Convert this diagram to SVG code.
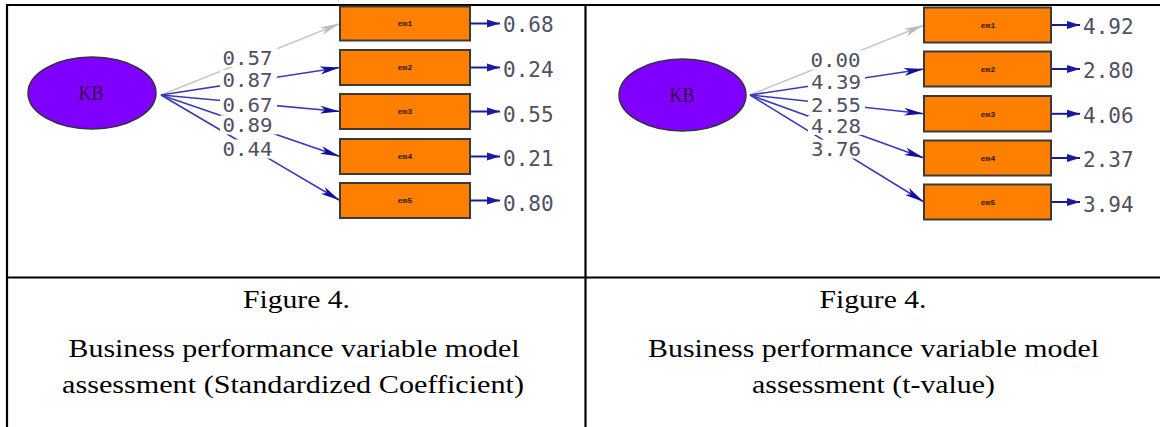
<svg xmlns="http://www.w3.org/2000/svg" width="1160" height="427" viewBox="0 0 1160 427">
<style>
.frame{stroke:#000;stroke-width:2.2;fill:none}
.lat{fill:#8000ff;stroke:#333;stroke-width:1.5}
.latt{font-family:"Liberation Serif",serif;font-size:21px;fill:#3a0a40;text-anchor:middle}
.obs{fill:#ff8000;stroke:#3a3a3a;stroke-width:2}
.obst{font-family:"Liberation Mono",monospace;font-size:8px;font-weight:bold;fill:#2a1800;text-anchor:middle}
.num{font-family:"DejaVu Sans Mono",monospace;font-size:21px;fill:#505062}
.lab{font-family:"DejaVu Sans Mono",monospace;font-size:19px;fill:#505062}
.bg{fill:#fff}
.ld{stroke:#3a3ab8;stroke-width:1.6;fill:none;marker-end:url(#ah)}
.ldg{stroke:#c8c8c8;stroke-width:1.6;fill:none;marker-end:url(#ahg)}
.err{stroke:#1a1aa0;stroke-width:2;fill:none;marker-end:url(#ahe)}
.cap{font-family:"Liberation Serif","Times New Roman",serif;font-size:25px;fill:#000;text-anchor:middle}
</style>
<defs>
<marker id="ah" markerUnits="userSpaceOnUse" markerWidth="22" markerHeight="10" refX="20" refY="5" orient="auto"><path d="M0,1 L20,5 L0,9 L5,5 z" fill="#1010a0"/></marker>
<marker id="ahg" markerUnits="userSpaceOnUse" markerWidth="22" markerHeight="10" refX="20" refY="5" orient="auto"><path d="M0,1 L20,5 L0,9 L5,5 z" fill="#bdbdbd"/></marker>
<marker id="ahe" markerUnits="userSpaceOnUse" markerWidth="14" markerHeight="9" refX="13" refY="4.5" orient="auto"><path d="M0,0.5 L13,4.5 L0,8.5 z" fill="#1a1aa0"/></marker>
</defs>

<g id="frame">
<line class="frame" x1="6" y1="5" x2="1160" y2="5"/>
<line class="frame" x1="7" y1="4" x2="7" y2="427"/>
<line class="frame" x1="585.5" y1="4" x2="585.5" y2="427"/>
<line class="frame" x1="6" y1="277.5" x2="1160" y2="277.5"/>
</g>

<g id="connectors">
<line class="ldg" x1="161" y1="95" x2="340" y2="23.5"/>
<line class="ld" x1="161" y1="95" x2="340" y2="67.5"/>
<line class="ld" x1="161" y1="95" x2="340" y2="111.5"/>
<line class="ld" x1="161" y1="95" x2="340" y2="156.5"/>
<line class="ld" x1="161" y1="95" x2="340" y2="200.5"/>
<line class="err" x1="471" y1="23.5" x2="500" y2="23.5"/>
<line class="err" x1="471" y1="67.5" x2="500" y2="67.5"/>
<line class="err" x1="471" y1="111.5" x2="500" y2="111.5"/>
<line class="err" x1="471" y1="156.5" x2="500" y2="156.5"/>
<line class="err" x1="471" y1="200.5" x2="500" y2="200.5"/>

<line class="ldg" x1="750" y1="95" x2="924" y2="25"/>
<line class="ld" x1="750" y1="95" x2="924" y2="69"/>
<line class="ld" x1="750" y1="95" x2="924" y2="113.8"/>
<line class="ld" x1="750" y1="95" x2="924" y2="158"/>
<line class="ld" x1="750" y1="95" x2="924" y2="202"/>
<line class="err" x1="1052" y1="25" x2="1080" y2="25"/>
<line class="err" x1="1052" y1="69" x2="1080" y2="69"/>
<line class="err" x1="1052" y1="113.8" x2="1080" y2="113.8"/>
<line class="err" x1="1052" y1="158" x2="1080" y2="158"/>
<line class="err" x1="1052" y1="202" x2="1080" y2="202"/>
</g>

<g id="labels-left">
<rect class="bg" x="220" y="48" width="57" height="19"/>
<text class="lab" x="222.5" y="64.5" textLength="50" lengthAdjust="spacingAndGlyphs">0.57</text>
<rect class="bg" x="220" y="70" width="57" height="19"/>
<text class="lab" x="222.5" y="86.5" textLength="50" lengthAdjust="spacingAndGlyphs">0.87</text>
<rect class="bg" x="220" y="95" width="57" height="19"/>
<text class="lab" x="222.5" y="111.5" textLength="50" lengthAdjust="spacingAndGlyphs">0.67</text>
<rect class="bg" x="220" y="115.5" width="57" height="19"/>
<text class="lab" x="222.5" y="132" textLength="50" lengthAdjust="spacingAndGlyphs">0.89</text>
<rect class="bg" x="220" y="139.5" width="57" height="19"/>
<text class="lab" x="222.5" y="156" textLength="50" lengthAdjust="spacingAndGlyphs">0.44</text>
</g>

<g id="labels-right">
<rect class="bg" x="808" y="50.5" width="57" height="19"/>
<text class="lab" x="810.5" y="67" textLength="50" lengthAdjust="spacingAndGlyphs">0.00</text>
<rect class="bg" x="808" y="72" width="57" height="19"/>
<text class="lab" x="811" y="88.5" textLength="50" lengthAdjust="spacingAndGlyphs">4.39</text>
<rect class="bg" x="808" y="95.5" width="57" height="19"/>
<text class="lab" x="811" y="112" textLength="50" lengthAdjust="spacingAndGlyphs">2.55</text>
<rect class="bg" x="808" y="116" width="57" height="19"/>
<text class="lab" x="811" y="132.5" textLength="50" lengthAdjust="spacingAndGlyphs">4.28</text>
<rect class="bg" x="808" y="139.5" width="57" height="19"/>
<text class="lab" x="811" y="156" textLength="50" lengthAdjust="spacingAndGlyphs">3.76</text>
</g>

<g id="KB-left">
<ellipse class="lat" cx="92" cy="93" rx="64" ry="36"/>
<text class="latt" x="91" y="100" textLength="25" lengthAdjust="spacingAndGlyphs">KB</text>
</g>
<g id="em1-left"><rect class="obs" x="340" y="6.5" width="130" height="34"/><text class="obst" x="405" y="26">em1</text></g>
<g id="em2-left"><rect class="obs" x="340" y="50" width="130" height="35"/><text class="obst" x="405" y="70">em2</text></g>
<g id="em3-left"><rect class="obs" x="340" y="94" width="130" height="35"/><text class="obst" x="405" y="114">em3</text></g>
<g id="em4-left"><rect class="obs" x="340" y="139" width="130" height="35"/><text class="obst" x="405" y="159">em4</text></g>
<g id="em5-left"><rect class="obs" x="340" y="183" width="130" height="35"/><text class="obst" x="405" y="203">em5</text></g>

<g id="err-left">
<text class="num" x="503" y="32.2">0.68</text>
<text class="num" x="503" y="77">0.24</text>
<text class="num" x="503" y="121.5">0.55</text>
<text class="num" x="503" y="166">0.21</text>
<text class="num" x="503" y="210.5">0.80</text>
</g>

<g id="KB-right">
<ellipse class="lat" cx="682.5" cy="95" rx="63.5" ry="36"/>
<text class="latt" x="682" y="102" textLength="25" lengthAdjust="spacingAndGlyphs">KB</text>
</g>
<g id="em1-right"><rect class="obs" x="924" y="7.5" width="127" height="35"/><text class="obst" x="988" y="27.5">em1</text></g>
<g id="em2-right"><rect class="obs" x="924" y="51.5" width="127" height="35"/><text class="obst" x="988" y="71.5">em2</text></g>
<g id="em3-right"><rect class="obs" x="924" y="96" width="127" height="35.5"/><text class="obst" x="988" y="116.5">em3</text></g>
<g id="em4-right"><rect class="obs" x="924" y="140.5" width="127" height="35"/><text class="obst" x="988" y="160.5">em4</text></g>
<g id="em5-right"><rect class="obs" x="924" y="184.5" width="127" height="35"/><text class="obst" x="988" y="204.5">em5</text></g>

<g id="err-right">
<text class="num" x="1083" y="33.7">4.92</text>
<text class="num" x="1083" y="78">2.80</text>
<text class="num" x="1083" y="122.5">4.06</text>
<text class="num" x="1083" y="167">2.37</text>
<text class="num" x="1083" y="211.5">3.94</text>
</g>

<g id="captions">
<text class="cap" x="296.5" y="308" textLength="107" lengthAdjust="spacingAndGlyphs">Figure 4.</text>
<text class="cap" x="294" y="357" textLength="451" lengthAdjust="spacingAndGlyphs">Business performance variable model</text>
<text class="cap" x="293" y="393" textLength="462" lengthAdjust="spacingAndGlyphs">assessment (Standardized Coefficient)</text>
<text class="cap" x="873" y="308" textLength="107" lengthAdjust="spacingAndGlyphs">Figure 4.</text>
<text class="cap" x="873.5" y="357" textLength="451" lengthAdjust="spacingAndGlyphs">Business performance variable model</text>
<text class="cap" x="873.5" y="393" textLength="243" lengthAdjust="spacingAndGlyphs">assessment (t-value)</text>
</g>
</svg>
